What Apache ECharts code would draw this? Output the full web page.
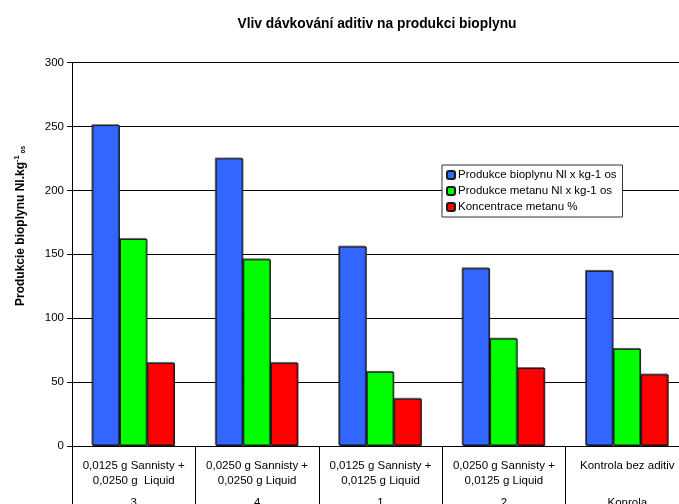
<!DOCTYPE html>
<html>
<head>
<meta charset="utf-8">
<script src="https://cdn.jsdelivr.net/npm/echarts@6/dist/echarts.min.js"></script>
<style>
  html, body { margin: 0; padding: 0; background: #fff; }
  #chart { width: 679px; height: 504px; }
</style>
</head>
<body>
<div id="chart"></div>
<script>
// Dosing variants (first label row) and their group names (second row)
const categories = [
  '0,0125 g Sannisty +\n0,0250 g  Liquid',
  '0,0250 g Sannisty +\n0,0250 g Liquid',
  '0,0125 g Sannisty +\n0,0125 g Liquid',
  '0,0250 g Sannisty +\n0,0125 g Liquid',
  'Kontrola bez aditiv'
];
const groups = ['3', '4', '1', '2', 'Konrola'];

const seriesNames = [
  'Produkce bioplynu Nl x kg-1 os',
  'Produkce metanu Nl x kg-1 os',
  'Koncentrace metanu %'
];
const biogas = [251, 225, 156, 139, 137];
const methane = [162, 146, 58, 84, 76];
const methanePct = [65, 65, 37, 61, 56];

const yTicks = { min: 0, max: 300, interval: 50 };

const colors = ['#3366FF', '#00FF00', '#FF0000'];
const font = 'Arial, "Liberation Sans", sans-serif';

const chart = echarts.init(document.getElementById('chart'), null, { renderer: 'canvas' });

function barSeries(name, data, color) {
  return {
    name: name,
    type: 'bar',
    data: data,
    barGap: '0%',
    barCategoryGap: '33%',
    itemStyle: {
      color: color,
      borderColor: '#1a1a1a',
      borderWidth: 1,
      shadowColor: 'rgba(0,0,0,0.45)',
      shadowOffsetX: -1,
      shadowOffsetY: -1,
      shadowBlur: 0
    },
    emphasis: { disabled: true },
    animation: false
  };
}

chart.setOption({
  animation: false,
  backgroundColor: '#ffffff',
  textStyle: { fontFamily: font, color: '#000' },
  title: {
    text: 'Vliv dávkování aditiv na produkci bioplynu',
    left: 372,
    textAlign: 'center',
    top: 12,
    textStyle: { fontFamily: font, fontSize: 13.8, fontWeight: 'bold', color: '#000' }
  },
  legend: {
    orient: 'vertical',
    left: 442,
    top: 165,
    padding: [4, 6, 4, 4],
    itemGap: 4,
    itemWidth: 8,
    itemHeight: 8,
    backgroundColor: '#fff',
    borderColor: '#333',
    borderWidth: 1,
    data: seriesNames,
    textStyle: { fontFamily: font, fontSize: 11.5, color: '#000', padding: [0, 0, 0, -2] },
    selectedMode: false
  },
  grid: {
    left: 72, right: -10, top: 62.5, bottom: 58,
    containLabel: false,
    outerBoundsMode: 'none'
  },
  xAxis: [
    {
      type: 'category',
      data: categories,
      axisLine: { lineStyle: { color: '#000', width: 1 } },
      axisTick: { show: true, length: 60, lineStyle: { color: '#000', width: 1 } },
      axisLabel: {
        interval: 0,
        margin: 12,
        fontFamily: font,
        fontSize: 11.5,
        lineHeight: 15,
        color: '#000'
      }
    },
    {
      type: 'category',
      data: groups,
      position: 'bottom',
      axisLine: { show: false },
      axisTick: { show: false },
      axisLabel: {
        interval: 0,
        margin: 51,
        fontFamily: font,
        fontSize: 11.5,
        color: '#000'
      }
    }
  ],
  yAxis: {
    type: 'value',
    min: yTicks.min,
    max: yTicks.max,
    interval: yTicks.interval,
    axisLine: { show: true, lineStyle: { color: '#000', width: 1 } },
    axisTick: { show: true, length: 5, lineStyle: { color: '#000' } },
    axisLabel: { fontFamily: font, fontSize: 11.5, color: '#000', margin: 8 },
    splitLine: { show: true, lineStyle: { color: '#000', width: 1 } }
  },
  // Rotated y-axis title with superscript unit exponent and subscript "os"
  graphic: [{
    type: 'text',
    x: 21,
    y: 226,
    rotation: Math.PI / 2,
    style: {
      text: '{b|Produkcie bioplynu Nl.kg}{sup|-1}{sub| os}',
      align: 'center',
      verticalAlign: 'middle',
      rich: {
        b: { fontFamily: font, fontSize: 12, fontWeight: 'bold', fill: '#000' },
        sup: { fontFamily: font, fontSize: 7.5, fontWeight: 'bold', fill: '#000', padding: [0, 0, 8, 0] },
        sub: { fontFamily: font, fontSize: 6.5, fontWeight: 'bold', fill: '#000', padding: [5, 0, 0, 0] }
      }
    }
  }],
  series: [
    barSeries(seriesNames[0], biogas, colors[0]),
    barSeries(seriesNames[1], methane, colors[1]),
    barSeries(seriesNames[2], methanePct, colors[2])
  ]
});
</script>
</body>
</html>
